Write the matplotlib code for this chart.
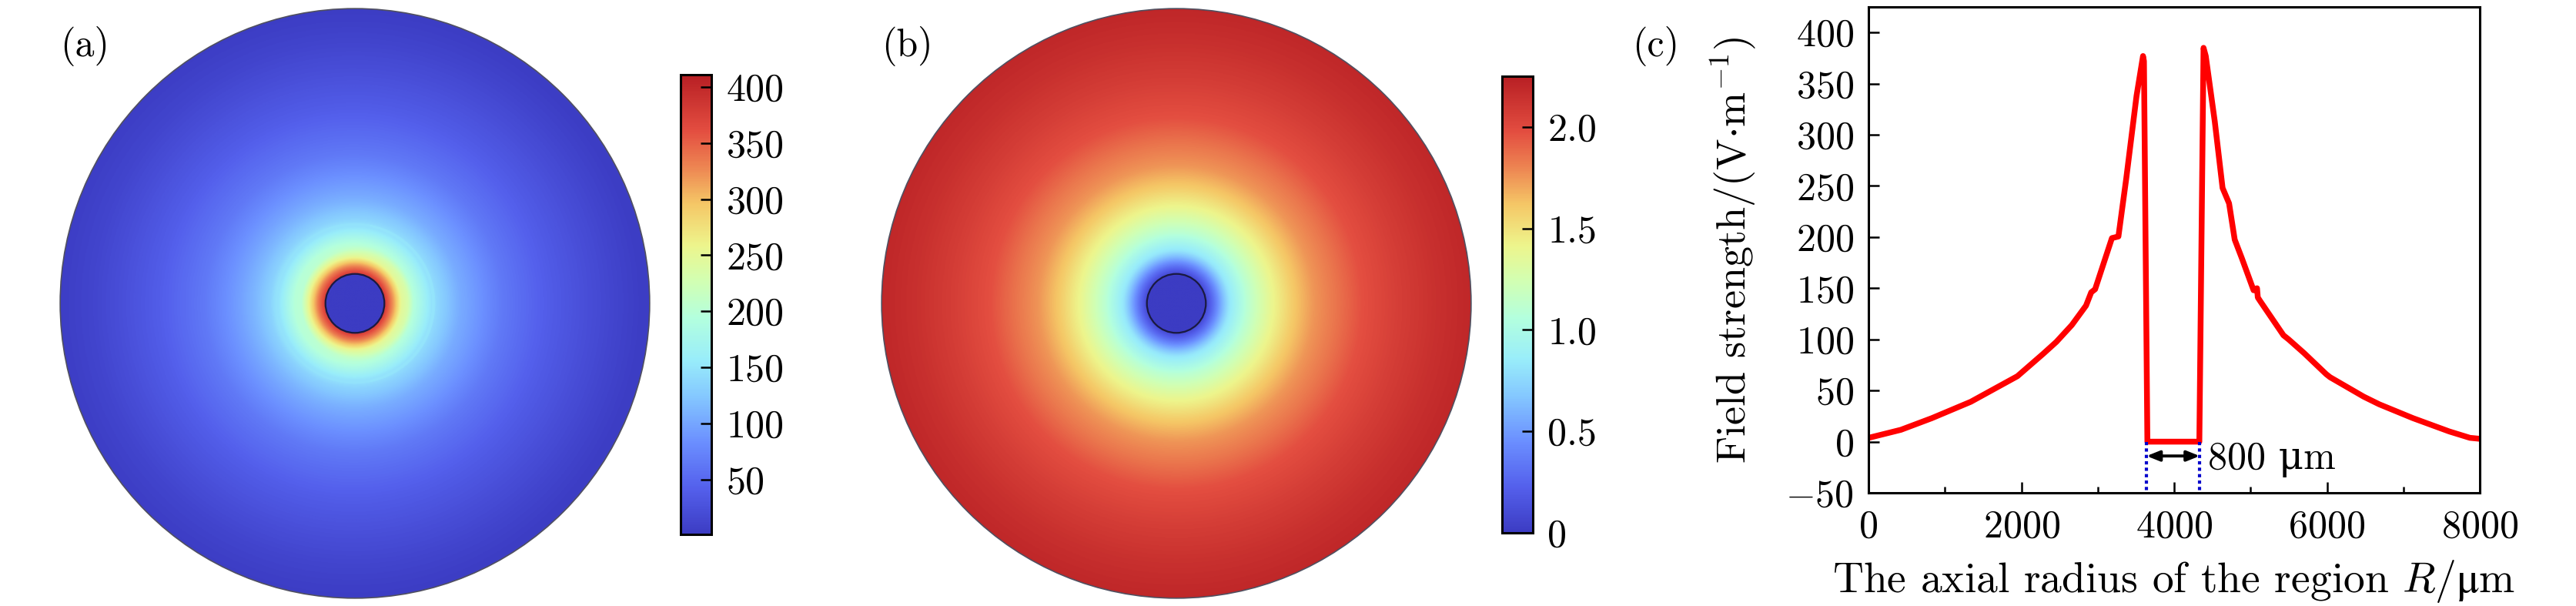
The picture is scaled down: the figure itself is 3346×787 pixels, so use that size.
import numpy as np
import matplotlib
matplotlib.use('Agg')
import matplotlib.pyplot as plt
from matplotlib.colors import LinearSegmentedColormap
from matplotlib.patches import Circle

plt.rcParams['font.family'] = ['cmr10', 'DejaVu Serif']
# computer modern for math, with stix for the glyphs cmr10 lacks (upright mu)
plt.rcParams['mathtext.fontset'] = 'custom'
plt.rcParams['mathtext.rm'] = 'cmr10'
plt.rcParams['mathtext.it'] = 'cmmi10'
plt.rcParams['mathtext.cal'] = 'cmsy10'
plt.rcParams['mathtext.fallback'] = 'stix'
plt.rcParams['axes.formatter.use_mathtext'] = True
plt.rcParams['axes.unicode_minus'] = True
plt.rcParams['font.size'] = 18

W, H, DPI = 3346, 787, 200

# light rainbow colormap
cmap_pos = [0.0, 0.1, 0.2, 0.3, 0.38, 0.47, 0.55, 0.63, 0.72, 0.8, 0.88, 1.0]
cmap_colors = ['#3c3cc3', '#5460ec', '#6b8fff', '#85c8ff', '#99edfa', '#b3ffde',
               '#d1ffb3', '#edf58c', '#f5c766', '#ed8552', '#e34d40', '#b81f24']
cmap = LinearSegmentedColormap.from_list('rainbow_light', list(zip(cmap_pos, cmap_colors)), N=256)

# (c) field strength along the diameter of the region (um, V/m)
line_x = [0, 424, 830, 1339, 1949, 2288, 2458, 2661, 2847, 2915, 2966, 3186, 3271, 3373,
          3508, 3593, 3605, 3650, 4330, 4385, 4414, 4532, 4634, 4719, 4793, 4888, 5040,
          5085, 5095, 5130, 5431, 5498, 5702, 5990, 6041, 6481, 6685, 7125, 7600, 7871, 8000]
line_e = [3.7, 11.6, 23, 39, 64, 86, 97.5, 114, 133, 146, 149, 199, 200.6, 257,
          338, 377, 372, 0, 0, 385, 377, 313, 248, 233, 197.5, 179, 148,
          150, 141, 137, 104, 100, 86.5, 66, 63, 44, 36.5, 23, 10, 3.75, 2.8]

pot_r = [400, 500, 600, 716, 958, 1302, 1583, 1865, 2177, 2521, 3042, 3563, 4000]
pot_v = [0.08, 0.3, 0.55, 0.82, 1.1, 1.4, 1.6, 1.75, 1.85, 1.97, 2.07, 2.15, 2.2]

R_OUT, R_HOLE = 4000, 400
gap_x = [3640, 4335]

# colour bar ranges / ticks
a_lim, a_ticks = (1, 411), [50, 100, 150, 200, 250, 300, 350, 400]
b_lim, b_ticks = (0, 2.25), [0, 0.5, 1.0, 1.5, 2.0]
b_labels = ['0', '0.5', '1.0', '1.5', '2.0']

fig = plt.figure(figsize=(W / DPI, H / DPI), dpi=DPI)


def box(x0, y0, x1, y1):
    # pixel box (left, top, right, bottom) -> axes
    return fig.add_axes([x0 / W, 1 - y1 / H, (x1 - x0) / W, (y1 - y0) / H])


# 2D grid over the disc
grid = np.linspace(-R_OUT, R_OUT, 801)
gx, gy = np.meshgrid(grid, grid)
gr = np.hypot(gx, gy)

# field map from the two halves of the line profile
lx = np.array(line_x, float)
le = np.array(line_e, float)
left = lx < gap_x[0] - 20
right = lx > gap_x[1] + 20
rl, el = R_OUT - lx[left], le[left]
rr, er = lx[right] - R_OUT, le[right]
ol, orr = np.argsort(rl), np.argsort(rr)
e_left = np.interp(gr, rl[ol], el[ol])
e_right = np.interp(gr, rr[orr], er[orr])
w = 0.5 * (1 + gx / np.maximum(gr, 1))
field_a = w * e_right + (1 - w) * e_left
field_a[gr < R_HOLE] = 0

field_b = np.interp(gr, pot_r, pot_v)
field_b[gr < R_HOLE] = 0


def draw_disc(ax, data, lim):
    im = ax.imshow(data, extent=[-R_OUT, R_OUT, -R_OUT, R_OUT], origin='lower', cmap=cmap,
                   vmin=lim[0], vmax=lim[1], interpolation='bilinear')
    clip = Circle((0, 0), R_OUT, transform=ax.transData)
    im.set_clip_path(clip)
    ax.add_patch(Circle((0, 0), R_OUT, fill=False, ec='#505060', lw=0.6))
    ax.add_patch(Circle((0, 0), R_HOLE, fill=False, ec='#1a1a40', lw=0.8))
    ax.set_xlim(-R_OUT * 1.003, R_OUT * 1.003)
    ax.set_ylim(-R_OUT * 1.003, R_OUT * 1.003)
    ax.set_aspect('equal')
    ax.axis('off')
    return im


def style_cbar(cb, cax, ticks, labels=None):
    cb.set_ticks(ticks)
    if labels is not None:
        cb.set_ticklabels(labels)
    cb.outline.set_linewidth(1.1)
    cax.tick_params(direction='in', length=5, width=0.9, labelsize=18, pad=7)


# (a)
ax_a = box(77, 10, 845, 778)
im_a = draw_disc(ax_a, field_a, a_lim)
cax_a = box(884, 97, 924, 694)
cb_a = fig.colorbar(im_a, cax=cax_a)
style_cbar(cb_a, cax_a, a_ticks, [str(t) for t in a_ticks])

# (b)
ax_b = box(1144, 10, 1912, 778)
im_b = draw_disc(ax_b, field_b, b_lim)
cax_b = box(1951, 99, 1991, 692)
cb_b = fig.colorbar(im_b, cax=cax_b)
style_cbar(cb_b, cax_b, b_ticks, b_labels)

# (c)
ax_c = box(2427, 9, 3221, 640)
ax_c.plot(line_x, line_e, color='#ff0000', lw=2.7, solid_joinstyle='round')
for gx0 in gap_x:
    ax_c.plot([gx0, gx0], [0, -50], color='#0000cc', lw=1.5, ls=(0, (1, 1)))
ax_c.annotate('', xy=(gap_x[0], -14), xytext=(gap_x[1], -14),
              arrowprops=dict(arrowstyle='<|-|>,head_length=0.5,head_width=0.2',
                              mutation_scale=10, color='black', lw=1.4,
                              shrinkA=0, shrinkB=0))
ax_c.text(4440, -27, '800 μm', fontsize=18, ha='left', va='baseline')
ax_c.set_xlim(0, 8000)
ax_c.set_ylim(-50, 425)
ax_c.set_xticks([0, 2000, 4000, 6000, 8000])
ax_c.set_xticks([1000, 3000, 5000, 7000], minor=True)
ax_c.set_yticks(np.arange(-50, 401, 50))
ax_c.tick_params(direction='in', length=5, width=0.9, labelsize=18)
ax_c.tick_params(axis='x', which='major', pad=8)
ax_c.tick_params(axis='y', pad=7)
ax_c.tick_params(axis='x', which='minor', direction='in', length=3, width=0.9)
for sp in ax_c.spines.values():
    sp.set_linewidth(1.1)
ax_c.set_xlabel(r'The axial radius of the region $R/\mathrm{\mu}$m', fontsize=20, labelpad=6)
ax_c.set_ylabel(r'Field strength/(V$\cdot$m$^{-1}$)', fontsize=19.5, labelpad=13)

# panel labels
for lab, px in [('(a)', 78), ('(b)', 1145), ('(c)', 2120)]:
    fig.text(px / W, 1 - 60 / H, lab, fontsize=18, ha='left', va='center')

fig.savefig('out.png', dpi=DPI)
